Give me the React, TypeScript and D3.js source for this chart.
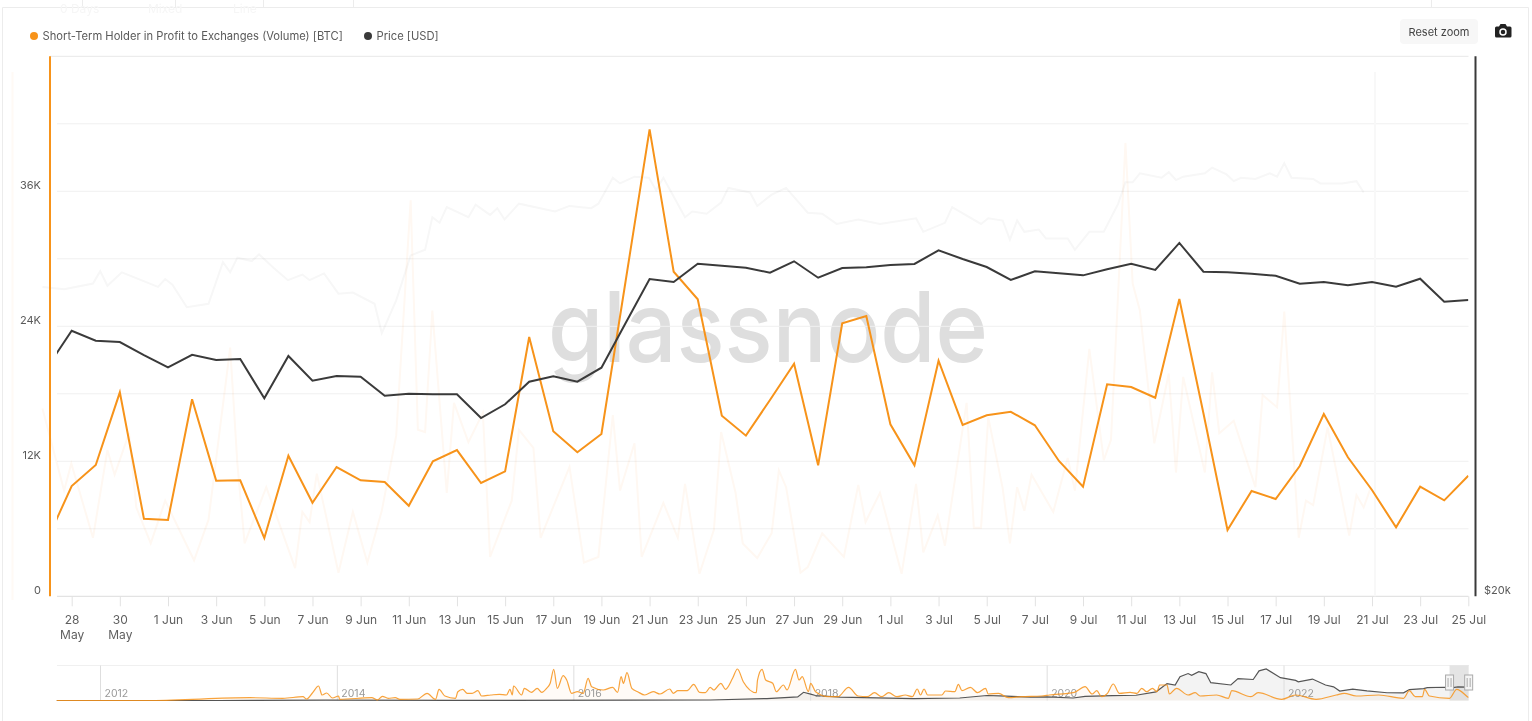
import { useEffect, useRef } from 'react';
import * as d3 from 'd3';

const WIDTH = 1532;
const HEIGHT = 721;

const ORANGE = '#f7931a';
const DARK = '#3a3a3a';
const FONT = 'Inter, "Noto Sans", sans-serif';

// daily values, 27 May to 25 Jul
const volumeK = [
  5.09, 9.8, 11.67, 18.13, 6.9, 6.78, 17.51, 10.28, 10.31, 5.18, 12.5, 8.32, 11.49, 10.31, 10.16,
  8.05, 12.0, 13.0, 10.07, 11.11, 23.05, 14.67, 12.8, 14.43, 27.96, 41.51, 28.85, 26.4, 16.05, 14.28,
  17.45, 20.68, 11.64, 24.27, 24.92, 15.29, 11.64, 20.94, 15.23, 16.09, 16.4, 15.2, 12.03, 9.74, 18.84,
  18.6, 17.65, 26.43, 16.27, 5.89, 9.36, 8.65, 11.58, 16.2, 12.36, 9.45, 6.13, 9.74, 8.53, 10.72,
];
const priceUsd = [
  26852, 28124, 27766, 27720, 27260, 26834, 27270, 27086, 27120, 25788, 27226, 26376, 26536, 26512, 25874,
  25940, 25920, 25920, 25142, 25590, 26344, 26526, 26344, 26820, 28392, 30054, 29938, 30650, 30572, 30494,
  30300, 30746, 30104, 30482, 30510, 30600, 30640, 31182, 30836, 30520, 30016, 30354, 30276, 30196, 30432,
  30650, 30404, 31478, 30338, 30314, 30260, 30182, 29874, 29938, 29812, 29938, 29758, 30064, 29192, 29256,
];

const leftTicksK = [0, 6, 12, 18, 24, 30, 36, 42, 48];
const leftLabelsK = [0, 12, 24, 36];

// every other day gets a label
const tickDates = d3.timeDay.range(new Date(2023, 4, 28), new Date(2023, 6, 26), 2);

const navYears = [2012, 2014, 2016, 2018, 2020, 2022];

const navPriceYear = [
  2011.63, 2013.0, 2013.3, 2013.9, 2015.0, 2016.5, 2017.15, 2017.63, 2017.89, 2017.94, 2018.0, 2018.04, 2018.25, 2018.87,
  2019.26, 2019.49, 2019.6, 2019.86, 2020.0, 2020.22, 2020.32, 2020.55, 2020.75, 2020.92, 2021.01, 2021.08, 2021.12,
  2021.19, 2021.22, 2021.28, 2021.34, 2021.38, 2021.55, 2021.61, 2021.74, 2021.79, 2021.85, 2021.97, 2022.1, 2022.12,
  2022.24, 2022.35, 2022.42, 2022.47, 2022.58, 2022.7, 2022.87, 2023.01, 2023.06, 2023.18, 2023.21, 2023.36, 2023.4,
  2023.47, 2023.56,
];
const navPriceUsd = [
  10, 13, 150, 1000, 300, 650, 1100, 4300, 8000, 18000, 14000, 11000, 7500, 4000,
  5500, 11000, 10000, 7200, 8000, 5500, 9000, 10500, 11500, 19000, 37000, 34000, 52000,
  59000, 55000, 63000, 59000, 39000, 34000, 48000, 46000, 65000, 69000, 50000, 44000, 41000,
  47000, 34000, 30000, 20800, 25000, 21000, 17000, 16800, 24000, 26000, 28000, 29000, 27000,
  30000, 29300,
];

const navVolumeYear = [
  2011.63, 2012.43, 2013.26, 2013.54, 2013.71, 2013.74, 2013.79, 2013.84, 2013.87, 2013.91, 2013.96, 2014.01, 2014.02, 2014.29, 2014.34,
  2014.38, 2014.43, 2014.49, 2014.53, 2014.68, 2014.76, 2014.83, 2014.86, 2014.91, 2015.0, 2015.02, 2015.06, 2015.1, 2015.14, 2015.19,
  2015.22, 2015.3, 2015.37, 2015.43, 2015.46, 2015.48, 2015.49, 2015.56, 2015.58, 2015.64, 2015.69, 2015.73, 2015.77, 2015.8, 2015.83,
  2015.86, 2015.91, 2015.94, 2015.98, 2016.03, 2016.08, 2016.12, 2016.15, 2016.25, 2016.33, 2016.37, 2016.4, 2016.42, 2016.45, 2016.49,
  2016.54, 2016.6, 2016.67, 2016.73, 2016.81, 2016.84, 2016.88, 2016.96, 2017.01, 2017.06, 2017.11, 2017.15, 2017.18, 2017.24, 2017.28,
  2017.34, 2017.38, 2017.43, 2017.54, 2017.55, 2017.59, 2017.62, 2017.68, 2017.71, 2017.77, 2017.8, 2017.87, 2017.9, 2017.93, 2017.98,
  2018.0, 2018.04, 2018.15, 2018.23, 2018.32, 2018.4, 2018.48, 2018.54, 2018.6, 2018.66, 2018.73, 2018.8, 2018.86, 2018.9, 2018.93,
  2018.96, 2018.99, 2019.11, 2019.14, 2019.22, 2019.25, 2019.28, 2019.35, 2019.41, 2019.48, 2019.5, 2019.59, 2019.67, 2019.78, 2019.95,
  2020.02, 2020.23, 2020.32, 2020.38, 2020.42, 2020.46, 2020.51, 2020.56, 2020.61, 2020.7, 2020.76, 2020.8, 2020.84, 2020.89, 2020.93,
  2020.95, 2021.01, 2021.03, 2021.09, 2021.19, 2021.25, 2021.29, 2021.43, 2021.53, 2021.56, 2021.72, 2021.78, 2021.98, 2022.1, 2022.27,
  2022.44, 2022.51, 2022.61, 2022.8, 2023.01, 2023.06, 2023.11, 2023.17, 2023.19, 2023.23, 2023.4, 2023.46, 2023.55, 2023.56,
];
const navVolumeK = [
  0, 0, 56, 44, 76, 30, 150, 290, 110, 150, 50, 90, 24, 56, 10,
  84, 44, 56, 24, 30, 144, 24, 224, 90, 44, 176, 224, 144, 144, 196,
  90, 110, 124, 110, 224, 110, 290, 110, 244, 164, 244, 164, 244, 344, 624,
  244, 496, 410, 144, 176, 144, 444, 276, 210, 264, 164, 476, 344, 556, 244,
  176, 110, 176, 130, 230, 144, 196, 196, 324, 164, 156, 264, 210, 344, 224,
  444, 630, 376, 156, 410, 624, 410, 344, 176, 310, 210, 624, 410, 476, 176,
  344, 176, 76, 76, 264, 90, 76, 156, 76, 156, 76, 110, 76, 230, 110,
  230, 110, 110, 190, 176, 324, 196, 264, 156, 244, 130, 144, 56, 76, 90,
  110, 164, 276, 130, 196, 76, 144, 330, 144, 164, 144, 244, 176, 244, 176,
  310, 310, 130, 244, 110, 156, 90, 110, 44, 196, 76, 156, 24, 110, 24,
  110, 144, 90, 110, 44, 196, 76, 76, 224, 90, 44, 224, 76, 60,
];

// faded frame left over from the zoom transition, measured on the left axis
const fadedStep = [
  2, 5, 9, 10, 11, 13, 18, 19, 20, 22, 25, 27, 28, 29, 31, 32, 34, 36, 38, 39, 41, 43, 45, 48, 49, 51, 53, 55, 56, 57,
  58, 61, 62, 64, 65, 66, 68, 73, 75, 78, 79, 81, 82, 84, 86, 87, 88, 91, 92, 94, 96, 97, 100, 101, 103, 105, 108, 110, 112, 115,
  118, 123, 124, 127, 128, 132, 133, 135, 136, 137, 138, 140, 141, 144, 145, 147, 149, 151, 152, 153, 154, 157, 158, 159, 160, 163, 164, 166, 167, 168,
  170, 172, 173, 174, 175, 178, 179, 182, 184, 185,
];
const fadedPriceK = [
  27.5, 27.3, 27.8, 28.9, 27.6, 28.8, 27.5, 28.2, 27.7, 25.7, 26, 29.7, 28.8, 30.1, 29.8, 30.4, 29.2, 28.1, 28.6, 28.1, 28.7, 26.9, 27, 26, 23.4, 26.3, 30.3, 30.8, 33.7, 33.2,
  34.6, 33.7, 34.8, 33.9, 34.5, 33.5, 34.9, 34.2, 34.7, 34.5, 34.9, 37.2, 36.7, 37.3, 37.2, 36.1, 37.2, 33.7, 34.2, 34, 35, 36.3, 35.9, 34.7, 35.7, 36.3, 34.1, 34, 33.1, 33.5,
  33.1, 33.6, 32.4, 33.2, 34.6, 33.1, 33.6, 33.4, 31.7, 33.4, 32.4, 32.6, 31.8, 31.8, 30.8, 32.4, 32.4, 34.9, 36.8, 36.8, 37.6, 37.2, 37.7, 37, 37.3, 37.6, 38.1, 37.5, 36.9, 37.2,
  37.1, 37.6, 37.3, 38.5, 37.2, 37.1, 36.7, 36.7, 36.9, 35.9,
];
const fadedVolumeStep = [
  2, 5, 6, 9, 11, 12, 14, 15, 17, 19, 23, 25, 28, 29, 30, 33, 37, 38, 39, 40, 43, 45, 47, 49, 51, 53, 54, 55, 56, 58,
  59, 61, 63, 64, 67, 68, 70, 71, 75, 77, 79, 81, 82, 84, 85, 88, 90, 91, 93, 95, 96, 98, 99, 101, 103, 104, 105, 107, 108, 110,
  113, 115, 116, 118, 121, 123, 124, 126, 127, 130, 131, 132, 133, 135, 136, 137, 138, 139, 142, 144, 145, 147, 149, 150, 152, 153, 154, 156, 158, 159,
  160, 163, 164, 165, 167, 170, 171, 173, 174, 176, 177, 178, 180, 183, 184, 185, 186,
];
const fadedVolumeK = [
  16.7, 9.4, 11.8, 5.2, 13, 10.8, 14.5, 7.9, 4.7, 8.5, 3.2, 6.8, 22.1, 11.8, 4.7, 9.7, 2.5, 7.5, 6.6, 10.9, 2.1, 7.5, 3, 7.6, 14.3, 35.2, 14.8, 14.6, 25.4, 9.2,
  17.2, 13.7, 16.3, 3.5, 8.5, 14.8, 13.2, 5.2, 11.5, 3, 3.5, 16.1, 9.4, 13.6, 3.5, 8.3, 5.2, 10, 2, 5.9, 14.6, 9.2, 4.7, 3.4, 5.6, 11.2, 9.7, 2.1, 2.6, 5.6,
  3.5, 9.9, 6.6, 9.2, 2, 10, 3.9, 7.2, 4.5, 17.2, 6.1, 6.1, 15.9, 9.6, 4.7, 9.7, 7.6, 10.8, 7.5, 12.3, 9.4, 22, 12.1, 13.9, 40.3, 27.8, 25.4, 13.6, 19.8, 11,
  19.5, 11, 19.9, 14.5, 15.6, 9.7, 17.9, 16.8, 25.3, 5.2, 8.5, 8.1, 15, 5.4, 9, 7.9, 9.7,
];

const toolbarLabels = ['0 Days', 'Mixed', 'Line'];

export default function App() {
  const svgRef = useRef<SVGSVGElement>(null);

  useEffect(() => {
    if (!svgRef.current) return;
    const svg = d3.select(svgRef.current);
    svg.selectAll('*').remove();

    const left = 57;
    const right = 1468.5;
    const top = 56.3;
    const bottom = 596.3;

    const dates = d3.timeDay.range(new Date(2023, 4, 27), new Date(2023, 6, 26));
    const x = d3.scaleTime().domain([dates[0], dates[dates.length - 1]]).range([47.6, 1468.3]);
    const yLeft = d3.scaleLinear().domain([0, 48]).range([bottom, top]);
    const yRight = d3.scaleLog().base(2).domain([20000, 40000]).range([bottom, top]);
    const fadedX = d3.scaleLinear().domain([0, 185]).range([28, 1363.7]);

    const defs = svg.append('defs');
    defs
      .append('clipPath')
      .attr('id', 'plot-clip')
      .append('rect')
      .attr('x', left)
      .attr('y', top)
      .attr('width', right - left)
      .attr('height', bottom - top);

    // window chrome
    svg.append('rect').attr('width', WIDTH).attr('height', HEIGHT).attr('fill', '#fff');
    svg
      .append('path')
      .attr('d', `M2.5,${HEIGHT}V7.5H1528.5V${HEIGHT}`)
      .attr('fill', 'none')
      .attr('stroke', '#ececec');
    svg
      .append('g')
      .selectAll('line')
      .data([82.5, 175.5, 263.5, 353.5, 1431.5])
      .enter()
      .append('line')
      .attr('x1', (d) => d)
      .attr('x2', (d) => d)
      .attr('y1', 0)
      .attr('y2', 7)
      .attr('stroke', '#ececec');
    svg
      .append('g')
      .selectAll('text')
      .data(toolbarLabels)
      .enter()
      .append('text')
      .attr('x', (_, i) => [60, 148, 233][i])
      .attr('y', 13)
      .attr('font-family', FONT)
      .attr('font-size', 12)
      .attr('fill', '#f6f6f6')
      .text((d) => d);

    // watermark sits under everything
    svg
      .append('text')
      .attr('x', 768)
      .attr('y', 361.5)
      .attr('text-anchor', 'middle')
      .attr('font-family', 'Inter, "Noto Sans", sans-serif')
      .attr('font-weight', 500)
      .attr('font-size', 98)
      .attr('textLength', 440)
      .attr('lengthAdjust', 'spacingAndGlyphs')
      .attr('fill', '#dedede')
      .text('glassnode');

    // grid
    svg
      .append('g')
      .selectAll('line')
      .data(leftTicksK)
      .enter()
      .append('line')
      .attr('x1', (d) => (d === 48 ? 50 : left))
      .attr('x2', right)
      .attr('y1', (d) => yLeft(d))
      .attr('y2', (d) => yLeft(d))
      .attr('stroke', (d) => (d === 0 ? '#dcdcdc' : d === 48 ? '#e8e8e8' : '#f0f0f0'))
      .attr('stroke-width', 1);

    // faded frame
    const fadedVolumeLine = d3
      .line<number>()
      .x((_, i) => fadedX(fadedVolumeStep[i]))
      .y((d) => yLeft(d));
    const fadedPriceLine = d3
      .line<number>()
      .x((_, i) => fadedX(fadedStep[i]))
      .y((d) => yLeft(d));
    svg
      .append('path')
      .attr('d', fadedVolumeLine(fadedVolumeK))
      .attr('fill', 'none')
      .attr('stroke', '#fff8f2')
      .attr('stroke-width', 2)
      .style('mix-blend-mode', 'multiply');
    svg
      .append('path')
      .attr('d', fadedPriceLine(fadedPriceK))
      .attr('fill', 'none')
      .attr('stroke', '#f7f7f7')
      .attr('stroke-width', 2)
      .style('mix-blend-mode', 'multiply');
    svg
      .append('line')
      .attr('x1', 1375)
      .attr('x2', 1375)
      .attr('y1', 72)
      .attr('y2', bottom)
      .attr('stroke', '#f8f8f8')
      .attr('stroke-width', 2);
    svg
      .append('line')
      .attr('x1', 12.5)
      .attr('x2', 12.5)
      .attr('y1', 72)
      .attr('y2', 600)
      .attr('stroke', '#fffaf5')
      .attr('stroke-width', 2);

    // series
    const plot = svg.append('g').attr('clip-path', 'url(#plot-clip)');
    const volumeLine = d3
      .line<number>()
      .x((_, i) => x(dates[i]))
      .y((d) => yLeft(d));
    const priceLine = d3
      .line<number>()
      .x((_, i) => x(dates[i]))
      .y((d) => yRight(d));
    plot
      .append('path')
      .attr('d', volumeLine(volumeK))
      .attr('fill', 'none')
      .attr('stroke', ORANGE)
      .attr('stroke-width', 2);
    plot
      .append('path')
      .attr('d', priceLine(priceUsd))
      .attr('fill', 'none')
      .attr('stroke', DARK)
      .attr('stroke-width', 2);

    // y axes
    svg
      .append('line')
      .attr('x1', 50)
      .attr('x2', 50)
      .attr('y1', top)
      .attr('y2', bottom)
      .attr('stroke', ORANGE)
      .attr('stroke-width', 2);
    svg
      .append('line')
      .attr('x1', 1475.5)
      .attr('x2', 1475.5)
      .attr('y1', top)
      .attr('y2', bottom)
      .attr('stroke', DARK)
      .attr('stroke-width', 2);
    svg
      .append('g')
      .selectAll('text')
      .data(leftLabelsK)
      .enter()
      .append('text')
      .attr('x', 41)
      .attr('y', (d) => yLeft(d) - 2)
      .attr('text-anchor', 'end')
      .attr('font-family', FONT)
      .attr('font-size', 11)
      .attr('fill', '#5a5a5a')
      .text((d) => (d === 0 ? '0' : `${d}K`));
    svg
      .append('text')
      .attr('x', 1484)
      .attr('y', yRight(20000) - 2)
      .attr('font-family', FONT)
      .attr('font-size', 11)
      .attr('fill', '#5a5a5a')
      .text('$20k');

    // x axis
    const xAxis = svg
      .append('g')
      .attr('transform', `translate(0,${bottom})`)
      .call(
        d3
          .axisBottom(x)
          .tickValues(tickDates)
          .tickSize(10)
          .tickSizeOuter(0)
          .tickPadding(9)
          .tickFormat(() => '')
      );
    xAxis.select('.domain').remove();
    xAxis.selectAll('.tick line').attr('stroke', '#e2e2e2');
    xAxis.selectAll<SVGTextElement, Date>('.tick text').each(function (d) {
      const label = d3.timeFormat('%-d %b')(d);
      const parts = d.getMonth() === 4 ? label.split(' ') : [label];
      const text = d3
        .select(this)
        .attr('font-family', FONT)
        .attr('font-size', 12)
        .attr('fill', '#5f5f5f');
      parts.forEach((part, i) => {
        text
          .append('tspan')
          .attr('x', 0)
          .attr('dy', i === 0 ? '0.71em' : 15)
          .text(part);
      });
    });

    // legend
    const legend = svg.append('g').attr('font-family', FONT).attr('font-size', 11.2).attr('fill', '#5a5a5a');
    legend.append('circle').attr('cx', 34).attr('cy', 36).attr('r', 4).attr('fill', ORANGE);
    legend.append('text').attr('x', 42.5).attr('y', 40).text('Short-Term Holder in Profit to Exchanges (Volume) [BTC]');
    legend.append('circle').attr('cx', 368).attr('cy', 36).attr('r', 4).attr('fill', DARK);
    legend.append('text').attr('x', 376.5).attr('y', 40).text('Price [USD]');

    // reset button + camera
    svg
      .append('rect')
      .attr('x', 1400)
      .attr('y', 19)
      .attr('width', 78)
      .attr('height', 25)
      .attr('rx', 4)
      .attr('fill', '#f7f7f7');
    svg
      .append('text')
      .attr('x', 1439)
      .attr('y', 36)
      .attr('text-anchor', 'middle')
      .attr('font-family', FONT)
      .attr('font-size', 11)
      .attr('fill', '#444')
      .text('Reset zoom');
    svg
      .append('path')
      .attr(
        'd',
        'M1496,26.5h3l1.5,-2.5h5l1.5,2.5h3a1.5,1.5 0 0 1 1.5,1.5v8a1.5,1.5 0 0 1 -1.5,1.5h-13.5a1.5,1.5 0 0 1 -1.5,-1.5v-8a1.5,1.5 0 0 1 1.5,-1.5z'
      )
      .attr('fill', '#222');
    svg.append('circle').attr('cx', 1503).attr('cy', 32).attr('r', 3).attr('fill', '#222').attr('stroke', '#fff').attr('stroke-width', 1.5);

    // navigator
    const navTop = 665.5;
    const navBottom = 700.5;
    const yearDate = (y: number) => new Date(Math.floor(y), 0, 1 + Math.round((y % 1) * 365));
    const navX = d3
      .scaleTime()
      .domain([yearDate(2012), yearDate(2022)])
      .range([100.5, 1284]);
    const navYPrice = d3.scaleLinear().domain([0, 69000]).range([navBottom, 669]);
    const navYVolume = d3.scaleLinear().domain([0, 630]).range([navBottom, 669]);

    const nav = svg.append('g');
    nav
      .append('line')
      .attr('x1', left)
      .attr('x2', 1469)
      .attr('y1', navTop)
      .attr('y2', navTop)
      .attr('stroke', '#f0f0f0');

    const priceArea = d3
      .area<number>()
      .x((_, i) => navX(yearDate(navPriceYear[i])))
      .y0(navBottom)
      .y1((d) => navYPrice(d));
    const volumeArea = d3
      .area<number>()
      .x((_, i) => navX(yearDate(navVolumeYear[i])))
      .y0(navBottom)
      .y1((d) => navYVolume(d));
    nav.append('path').attr('d', volumeArea(navVolumeK)).attr('fill', ORANGE).attr('opacity', 0.035);
    nav.append('path').attr('d', priceArea(navPriceUsd)).attr('fill', DARK).attr('opacity', 0.06);

    nav
      .append('rect')
      .attr('x', navX(dates[0]))
      .attr('y', navTop)
      .attr('width', navX(dates[dates.length - 1]) - navX(dates[0]))
      .attr('height', navBottom - navTop)
      .attr('fill', '#d9d9d9')
      .attr('opacity', 0.7);

    nav
      .selectAll('.year-line')
      .data(navYears)
      .enter()
      .append('line')
      .attr('class', 'year-line')
      .attr('x1', (d) => navX(yearDate(d)))
      .attr('x2', (d) => navX(yearDate(d)))
      .attr('y1', navTop)
      .attr('y2', navBottom)
      .attr('stroke', '#dedede');
    nav
      .selectAll('.year-label')
      .data(navYears)
      .enter()
      .append('text')
      .attr('class', 'year-label')
      .attr('x', (d) => navX(yearDate(d)) + 4)
      .attr('y', 697)
      .attr('font-family', FONT)
      .attr('font-size', 10.5)
      .attr('fill', '#999')
      .text((d) => d);

    const navVolumeLine = d3
      .line<number>()
      .curve(d3.curveMonotoneX)
      .x((_, i) => navX(yearDate(navVolumeYear[i])))
      .y((d) => navYVolume(d));
    const navPriceLine = d3
      .line<number>()
      .x((_, i) => navX(yearDate(navPriceYear[i])))
      .y((d) => navYPrice(d));
    nav
      .append('path')
      .attr('d', navPriceLine(navPriceUsd))
      .attr('fill', 'none')
      .attr('stroke', '#555')
      .attr('stroke-width', 1.2);
    nav
      .append('path')
      .attr('d', navVolumeLine(navVolumeK))
      .attr('fill', 'none')
      .attr('stroke', ORANGE)
      .attr('stroke-opacity', 0.85)
      .attr('stroke-width', 1.2);

    // zoom handles
    const handles = nav
      .selectAll('.handle')
      .data([dates[0], dates[dates.length - 1]])
      .enter()
      .append('g')
      .attr('class', 'handle')
      .attr('transform', (d) => `translate(${navX(d)},675)`);
    handles
      .append('rect')
      .attr('x', -4)
      .attr('width', 8)
      .attr('height', 15)
      .attr('fill', '#f5f5f5')
      .attr('stroke', '#aaa');
    handles
      .selectAll('line')
      .data([-1.5, 1.5])
      .enter()
      .append('line')
      .attr('x1', (d) => d)
      .attr('x2', (d) => d)
      .attr('y1', 3)
      .attr('y2', 12)
      .attr('stroke', '#aaa');
  }, []);

  return (
    <svg
      ref={svgRef}
      width={WIDTH}
      height={HEIGHT}
      style={{ position: 'absolute', left: 0, top: 0, display: 'block' }}
    />
  );
}
